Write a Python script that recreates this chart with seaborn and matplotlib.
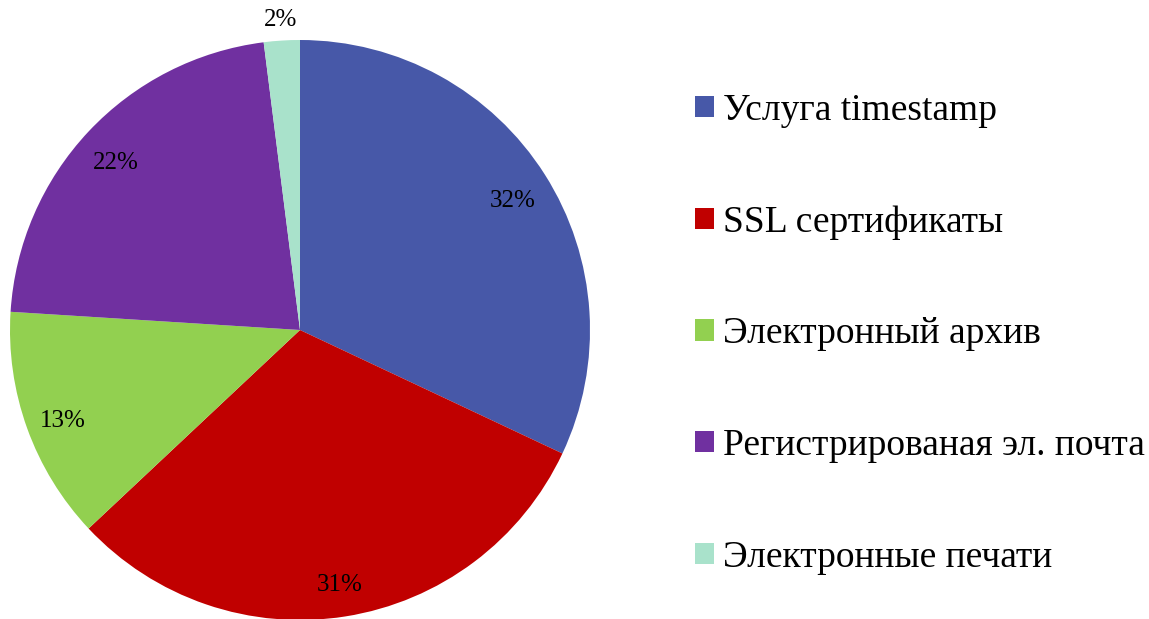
import numpy as np
import matplotlib
matplotlib.use("Agg")
import matplotlib.pyplot as plt
import seaborn as sns

labels = ["Услуга timestamp", "SSL сертификаты", "Электронный архив",
          "Регистрированая эл. почта", "Электронные печати"]
shares = [32, 31, 13, 22, 2]
colors = ["#4758A8", "#C00000", "#92D050", "#7030A0", "#A9E2CB"]

sns.set_theme(style="white")
plt.rcParams['font.family'] = ['Liberation Serif', 'DejaVu Serif']
plt.rcParams['text.color'] = 'black'

W, H = 1149, 619
fig = plt.figure(figsize=(W / 100, H / 100), dpi=100)
# pie box: centre (300, 330) px, radius 290 px
ax = fig.add_axes([10 / W, (H - 620) / H, 580 / W, 580 / H])

wedges, texts, autotexts = ax.pie(
    shares, colors=colors, startangle=90, counterclock=False,
    autopct=lambda p: f"{p:.0f}%", pctdistance=0.87,
    wedgeprops=dict(linewidth=0), textprops=dict(fontsize=18, color="black"))
ax.set_xlim(-1, 1)
ax.set_ylim(-1, 1)
ax.set_aspect("equal")

for w, t, s in zip(wedges, autotexts, shares):
    mid = np.deg2rad((w.theta1 + w.theta2) / 2)
    r = 1.07 if s < 5 else 0.87   # small slice label sits outside the pie
    t.set_position((r * np.cos(mid), r * np.sin(mid) - (0 if s < 5 else 0.02)))

leg = fig.legend(wedges, labels, loc="center left",
                 bbox_to_anchor=(695 / W, 1 - 334 / H), frameon=False,
                 fontsize=27, handlelength=0.5, handleheight=0.5,
                 handletextpad=0.25, labelspacing=2.06, borderpad=0, borderaxespad=0)
for txt in leg.get_texts():
    txt.set_color("black")

fig.savefig("out.png", dpi=100)
